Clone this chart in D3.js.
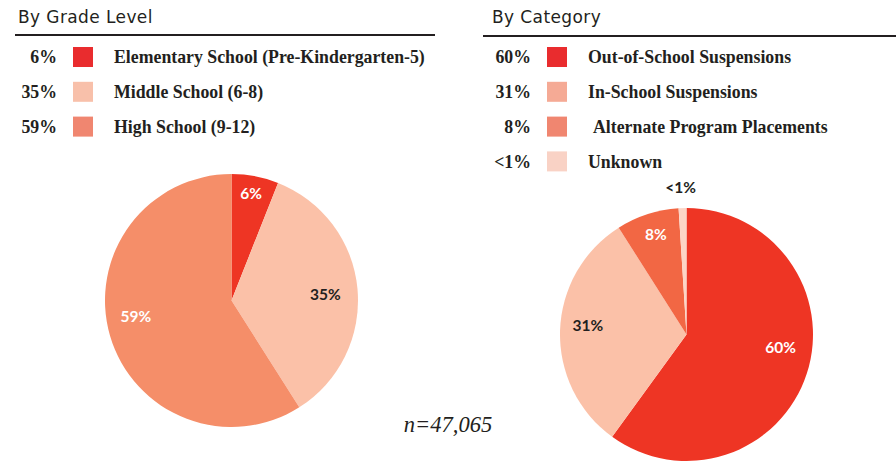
<!DOCTYPE html>
<html>
<head>
<meta charset="utf-8">
<script src="https://cdn.jsdelivr.net/npm/d3@7"></script>
<style>
  html, body { margin: 0; padding: 0; background: #fff; }
  svg { display: block; }
</style>
</head>
<body>
<svg id="chart" width="896" height="462"></svg>
<script>
// grade level breakdown
const gradeLabels = ["Elementary School (Pre-Kindergarten-5)", "Middle School (6-8)", "High School (9-12)"];
const gradeValues = [6, 35, 59];
const gradeText = ["6%", "35%", "59%"];

// category breakdown
const catLabels = ["Out-of-School Suspensions", "In-School Suspensions", "Alternate Program Placements", "Unknown"];
const catValues = [60, 31, 8, 1];
const catText = ["60%", "31%", "8%", "<1%"];

const totalN = "n=47,065";

// colours
const gradeSliceColors = ["#ee3524", "#fbc1a8", "#f58e69"];
const gradeSwatchColors = ["#e92c2e", "#f8c0aa", "#f08670"];
const catSliceColors = ["#ee3524", "#fbc1a8", "#f26744", "#fcd5c6"];
const catSwatchColors = ["#e92c2e", "#f5aa95", "#f08670", "#f9d2c5"];

const svg = d3.select("#chart");

function drawPanel(opts) {
  const g = svg.append("g");

  // title + rule
  g.append("text")
    .attr("x", opts.titleX).attr("y", 23)
    .attr("font-family", "DejaVu Sans, Arial, sans-serif")
    .attr("font-size", 17)
    .attr("letter-spacing", 0.4)
    .attr("fill", "#231f20")
    .text(opts.title);
  g.append("line")
    .attr("x1", opts.ruleX1).attr("x2", opts.ruleX2)
    .attr("y1", opts.ruleY).attr("y2", opts.ruleY)
    .attr("stroke", "#231f20").attr("stroke-width", 2.2);

  // legend rows
  const rowY = d3.scalePoint().domain(d3.range(opts.labels.length))
    .range([57, 57 + 34.8 * (opts.labels.length - 1)]);
  const rows = g.selectAll(".row").data(opts.labels).enter().append("g")
    .attr("transform", (d, i) => `translate(0,${rowY(i)})`);
  rows.append("text")
    .attr("x", opts.pctX).attr("text-anchor", "end").attr("dy", "0.35em")
    .attr("font-family", "Liberation Serif, Times New Roman, serif")
    .attr("font-weight", "bold").attr("font-size", 17.8)
    .attr("fill", "#231f20")
    .text((d, i) => opts.text[i]);
  rows.append("rect")
    .attr("x", opts.swatchX).attr("y", -10)
    .attr("width", 20).attr("height", 20)
    .attr("fill", (d, i) => opts.swatch[i]);
  rows.append("text")
    .attr("x", (d, i) => opts.labelX + (opts.labelIndent[i] || 0)).attr("dy", "0.35em")
    .attr("font-family", "Liberation Serif, Times New Roman, serif")
    .attr("font-weight", "bold").attr("font-size", 17.8)
    .attr("fill", "#231f20")
    .text(d => d);

  // pie
  const pie = d3.pie().sort(null).value(d => d);
  const arcs = pie(opts.values);
  const r = 126.5;
  const arc = d3.arc().innerRadius(0).outerRadius(r);
  const pg = g.append("g").attr("transform", `translate(${opts.cx},${opts.cy})`);
  pg.selectAll("path").data(arcs).enter().append("path")
    .attr("d", arc)
    .attr("fill", (d, i) => opts.slice[i]);

  // labels: placed along a nudged angle at a given radius
  pg.selectAll(".lbl").data(arcs).enter().append("text")
    .attr("transform", (d, i) => {
      const p = opts.labelPos[i];
      const a = (d.startAngle + d.endAngle) / 2 + p[1] * Math.PI / 180;
      return `translate(${Math.sin(a) * p[0]},${-Math.cos(a) * p[0]})`;
    })
    .attr("text-anchor", "middle").attr("dy", "0.36em")
    .attr("font-family", "Lato, Open Sans, sans-serif")
    .attr("font-weight", 700).attr("font-size", 15.5)
    .attr("fill", (d, i) => opts.labelFill[i])
    .text((d, i) => opts.text[i]);
}

drawPanel({
  title: "By Grade Level", titleX: 18,
  ruleX1: 15, ruleX2: 435, ruleY: 35,
  labels: gradeLabels, values: gradeValues, text: gradeText,
  swatch: gradeSwatchColors, slice: gradeSliceColors,
  pctX: 57, swatchX: 73, labelX: 114, labelIndent: [],
  cx: 231.5, cy: 300.5,
  labelPos: [[109, -0.5], [94, 1.5], [97, 7]],
  labelFill: ["#fff", "#231f20", "#fff"]
});

drawPanel({
  title: "By Category", titleX: 492,
  ruleX1: 483, ruleX2: 896, ruleY: 36,
  labels: catLabels, values: catValues, text: catText,
  swatch: catSwatchColors, slice: catSliceColors,
  pctX: 531, swatchX: 547, labelX: 588, labelIndent: [0, 0, 5, 0],
  cx: 686.5, cy: 334.5,
  labelPos: [[95, -10], [99, 3.7], [105, 1], [147, -0.5]],
  labelFill: ["#fff", "#231f20", "#fff", "#231f20"]
});

svg.append("text")
  .attr("x", 448).attr("y", 432).attr("text-anchor", "middle")
  .attr("font-family", "Liberation Serif, Times New Roman, serif")
  .attr("font-style", "italic").attr("font-size", 22.5)
  .attr("fill", "#231f20")
  .text(totalN);
</script>
</body>
</html>
